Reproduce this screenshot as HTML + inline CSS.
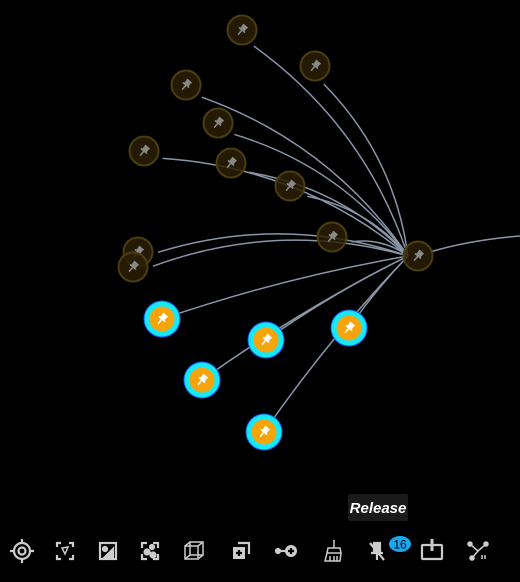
<!DOCTYPE html>
<html><head><meta charset="utf-8">
<style>
html,body{margin:0;padding:0;background:#000;width:520px;height:582px;overflow:hidden;font-family:"Liberation Sans",sans-serif}
svg{display:block}
</style></head>
<body>
<svg id="g" width="520" height="582" viewBox="0 0 520 582">
  <rect width="520" height="582" fill="#000"/>
  <g id="edges"></g>
  <g id="nodes"></g>
  <g id="toolbar" stroke="#ccc" fill="none" stroke-width="2.2">
    <g transform="translate(22,551)"><circle r="8"/><circle r="3.5"/><path d="M0-12V-8M0 8V12M-12 0H-8M8 0H12"/></g>
    <g transform="translate(65,551)"><path d="M-8-4V-8H-4M4-8H8V-4M8 4V8H4M-4 8H-8V4"/><path d="M-3-3L3-4L0 3Z" stroke-width="1.5"/></g>
    <g transform="translate(108,551)"><rect x="-8" y="-8" width="16" height="16"/><circle cx="-3" cy="-2" r="2" fill="#ccc"/><path d="M-3 6L5 -2V6Z" fill="#ccc"/></g>
    <g transform="translate(150,551)"><path d="M-8-3V-8H-3M3-8H8V-3M8 3V8H3M-3 8H-8V3"/><circle cx="-3" cy="1" r="2.5" fill="#ccc"/><circle cx="3" cy="4" r="2.5" fill="#ccc"/><circle cx="2" cy="-4" r="2" fill="#ccc"/></g>
    <g transform="translate(194,551)" stroke-width="1.5"><rect x="-9" y="-5" width="13" height="13"/><rect x="-4" y="-9" width="13" height="13"/><path d="M-9-5L-4-9M4-5L9-9M4 8L9 4M-9 8L-4 4"/></g>
    <g transform="translate(241,551)"><path d="M-3-8H8V3"/><rect x="-8" y="-4" width="12" height="12" fill="#ccc" stroke="none"/><path d="M-2 -1V5M-5 2H1" stroke="#000"/></g>
    <g transform="translate(287,551)"><circle cx="-9" cy="0" r="2" fill="#ccc"/><path d="M-8 0H-1"/><circle cx="4" cy="0" r="6" fill="#ccc" stroke="none"/><path d="M4-3V3M1 0H7" stroke="#000"/></g>
    <g transform="translate(332,551)" stroke-width="1.5"><path d="M2-11V-3M-4-3H8L9 2H-5ZM-5 2L-7 10H8L9 2M-2 5V10M2 5V10M5 5V10"/></g>
    <g transform="translate(377,551)"><path d="M-4-8H4M-3-8V0H3V-8M-6 2H6M0 2V9" fill="#ccc"/><path d="M-7-8L7 9"/></g>
    <g transform="translate(432,551)"><rect x="-10" y="-6" width="20" height="14" rx="1"/><path d="M0-12V0" stroke-width="3"/></g>
    <g transform="translate(478,551)" stroke-width="1.5"><path d="M-8-7L0 0L8-7M0 0L-6 7"/><circle cx="-8" cy="-7" r="2" fill="#ccc"/><circle cx="8" cy="-7" r="2" fill="#ccc"/><circle cx="-6" cy="7" r="2" fill="#ccc"/><path d="M4 4V8M7 4V8"/></g>
  </g>
  <g><ellipse cx="400" cy="544" rx="11" ry="8" fill="#14a8f0"/><text x="400" y="548.5" text-anchor="middle" font-size="12" fill="#000">16</text></g>
  <g><rect x="348" y="494" width="60" height="27" rx="2" fill="#1a1a1a"/><text x="378" y="513" text-anchor="middle" font-size="15" font-style="italic" font-weight="bold" fill="#fff">Release</text></g>
</svg>
<script>
const hub=[418,256];
const dimX=[242,315,186,218,144,231,290,332,138,133];
const dimY=[30,66,85,123,151,163,186,237,252,267];
const selX=[162,266,349,202,264];
const selY=[319,340,328,380,432];
const NS="http://www.w3.org/2000/svg";
const E=document.getElementById('edges'),N=document.getElementById('nodes');
function mk(t,a,p){const e=document.createElementNS(NS,t);for(const k in a)e.setAttribute(k,a[k]);p.appendChild(e);return e;}
function edge(x,y,off,k){
  const ex=hub[0]-10,ey=hub[1];
  const dx=ex-x,dy=ey-y,L=Math.hypot(dx,dy);
  const sx=x+dx/L*off,sy=y+dy/L*off;
  const cx=(sx+ex)/2+dy*k,cy=(sy+ey)/2-dx*k;
  const p=mk('path',{d:`M${sx},${sy}Q${cx},${cy} ${ex},${ey}`,fill:'none',stroke:'#8a96a8','stroke-width':1.5},E);
  
  
}
function pin(x,y,c,p){
  const g=mk('g',{transform:`translate(${x},${y}) rotate(40)`},p);
  mk('path',{d:'M-3-5H3M-2-5V0H2V-5M-4 0H4M0 0V6',stroke:c,'stroke-width':1.6,fill:c},g);
}
for(let i=0;i<dimX.length;i++)edge(dimX[i],dimY[i],20,0.15);
for(let i=0;i<selX.length;i++)edge(selX[i],selY[i],0,0.04);
const ex=mk('path',{d:`M${hub[0]+12},${hub[1]-4}Q470,240 520,236`,fill:'none',stroke:'#8a96a8','stroke-width':1.5},E);


function dim(x,y,name){
  const g=mk('g',{},N);
  
  
  mk('circle',{cx:x,cy:y,r:14.5,fill:'#2a1f05',stroke:'#4c3d0c','stroke-width':2,'fill-opacity':0.85},g);
  pin(x,y,'#888',g);
}
dim(hub[0],hub[1],'hub-node');
for(let i=0;i<dimX.length;i++)dim(dimX[i],dimY[i],'node');
for(let i=0;i<selX.length;i++){
  const g=mk('g',{},N);
  
  
  mk('circle',{cx:selX[i],cy:selY[i],r:18.5,fill:'#1060ff'},g);
  mk('circle',{cx:selX[i],cy:selY[i],r:17.5,fill:'#16e8f8'},g);
  mk('circle',{cx:selX[i],cy:selY[i],r:12.5,fill:'#f7a30a'},g);
  pin(selX[i],selY[i],'#fff',g);
}
</script>
</body></html>
